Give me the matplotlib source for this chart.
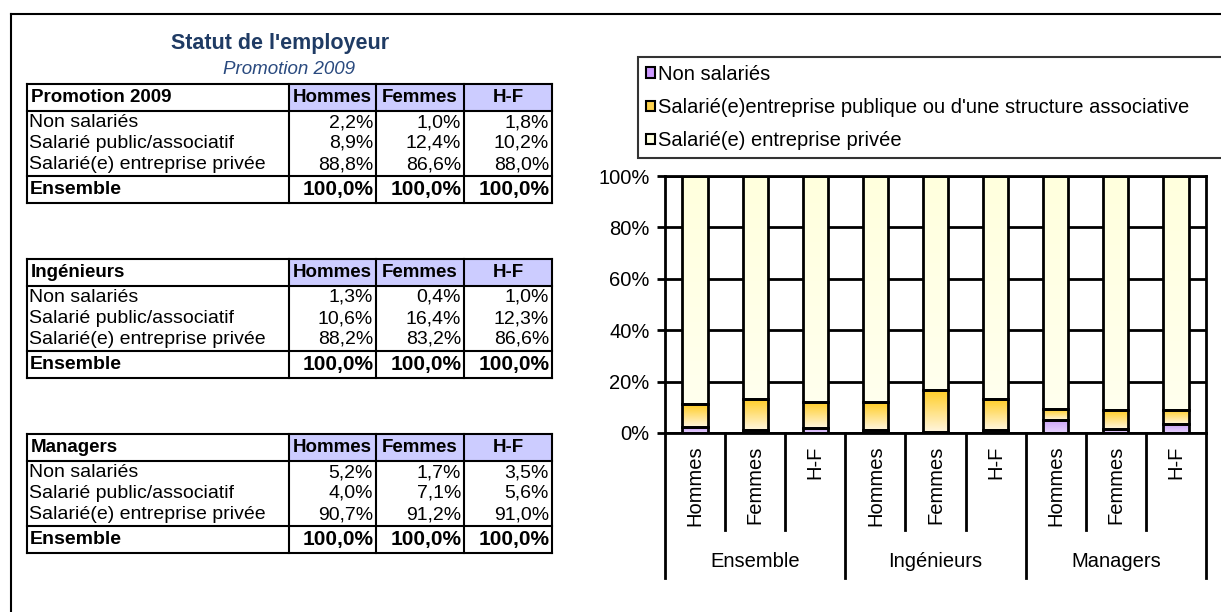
import numpy as np
import matplotlib.pyplot as plt
from matplotlib.patches import Rectangle
from matplotlib.colors import LinearSegmentedColormap
from matplotlib.transforms import blended_transform_factory

plt.rcParams['font.family'] = ['Liberation Sans', 'DejaVu Sans']

# --- données ---
groupes = ['Ensemble', 'Ingénieurs', 'Managers']
sexes = ['Hommes', 'Femmes', 'H-F']
titres_tableaux = ['Promotion 2009', 'Ingénieurs', 'Managers']
lignes = ['Non salariés', 'Salarié public/associatif', 'Salarié(e) entreprise privée']
non_salaries = [2.2, 1.0, 1.8, 1.3, 0.4, 1.0, 5.2, 1.7, 3.5]
public_asso = [8.9, 12.4, 10.2, 10.6, 16.4, 12.3, 4.0, 7.1, 5.6]
prive = [88.8, 86.6, 88.0, 88.2, 83.2, 86.6, 90.7, 91.2, 91.0]
legende = ['Non salariés',
           "Salarié(e)entreprise publique ou d'une structure associative",
           'Salarié(e) entreprise privée']
yticks = [0, 20, 40, 60, 80, 100]

W, H = 1221, 612
fig = plt.figure(figsize=(W / 100, H / 100), dpi=100)

# calque de fond en pixels pour le cadre et les tableaux
bg = fig.add_axes([0, 0, 1, 1])
bg.set_xlim(0, W)
bg.set_ylim(H, 0)
bg.axis('off')

bg.plot([11, 11], [14, H], color='black', lw=1.5)
bg.plot([11, W], [14, 14], color='black', lw=1.5)

bg.text(280, 43, "Statut de l'employeur", ha='center', va='center',
        fontsize=15.5, fontweight='bold', color='#1F3B64')
bg.text(289, 69, 'Promotion 2009', ha='center', va='center',
        fontsize=13.5, style='italic', color='#2A4A7F')

FS = 14
xs = [27, 289, 376, 464, 552]


def fmt(v):
    return f'{v:.1f}%'.replace('.', ',')


def dessine_tableau(y0, titre, vals):
    h_head, h_row, h_ens = 27, 21, 27
    y_head_bot = y0 + h_head
    y_ens_top = y_head_bot + 3 * h_row + 2
    y_bot = y_ens_top + h_ens
    for j in range(3):
        bg.add_patch(Rectangle((xs[j + 1], y0), xs[j + 2] - xs[j + 1], h_head,
                               fc='#CCCCFF', ec='none', zorder=1))
    # lignes horizontales
    for yy in [y0, y_head_bot, y_ens_top, y_bot]:
        bg.plot([xs[0], xs[-1]], [yy, yy], color='black', lw=1.5, zorder=2)
    for xx in xs:
        bg.plot([xx, xx], [y0, y_bot], color='black', lw=1.5, zorder=2)
    # en-tête
    yc = y0 + h_head / 2
    bg.text(xs[0] + 4, yc, titre, ha='left', va='center', fontsize=FS - 0.5, fontweight='bold')
    for j, s in enumerate(sexes):
        bg.text((xs[j + 1] + xs[j + 2]) / 2, yc, s, ha='center', va='center',
                fontsize=FS - 0.5, fontweight='bold')
    # lignes de données
    for i, lab in enumerate(lignes):
        yc = y_head_bot + 1 + h_row * (i + 0.5)
        bg.text(xs[0] + 2, yc, lab, ha='left', va='center', fontsize=FS)
        for j in range(3):
            bg.text(xs[j + 2] - 3, yc, fmt(vals[i][j]), ha='right', va='center', fontsize=FS)
    yc = y_ens_top + h_ens / 2
    bg.text(xs[0] + 3, yc, 'Ensemble', ha='left', va='center', fontsize=FS, fontweight='bold')
    for j in range(3):
        bg.text(xs[j + 2] - 2, yc, '100,0%', ha='right', va='center',
                fontsize=FS + 1, fontweight='bold')


for k, (titre, y0) in enumerate(zip(titres_tableaux, [84, 259, 434])):
    sl = slice(3 * k, 3 * k + 3)
    vals = [non_salaries[sl], public_asso[sl], prive[sl]]
    dessine_tableau(y0, titre, vals)

# --- graphique empilé 100 % ---
ax = fig.add_axes([665 / W, (H - 433) / H, (1206 - 665) / W, (433 - 176) / H])
x = np.arange(len(non_salaries))
a = np.array(non_salaries)
b = np.array(public_asso)
c = np.array(prive)
tot = a + b + c
a, b, c = a / tot * 100, b / tot * 100, c / tot * 100

cm_ns = LinearSegmentedColormap.from_list('ns', ['#E8D4FF', '#C9A0F5'])
cm_pub = LinearSegmentedColormap.from_list('pub', ['#FFF6DE', '#FFCC22'])
cm_pr = LinearSegmentedColormap.from_list('pr', ['#FFFFEE', '#FFFFDD'])
grad = np.linspace(0, 1, 64).reshape(-1, 1)

largeur = 0.42
for vals, bottom, cm in [(a, 0, cm_ns), (b, a, cm_pub), (c, a + b, cm_pr)]:
    bars = ax.bar(x, vals, largeur, bottom=bottom, fill=False, edgecolor='black',
                  linewidth=2, zorder=3)
    for p in bars:
        x0, y0 = p.get_x(), p.get_y()
        ax.imshow(grad, extent=(x0, x0 + p.get_width(), y0, y0 + p.get_height()),
                  origin='lower', cmap=cm, aspect='auto', zorder=2)

ax.set_xlim(-0.5, len(x) - 0.5)
ax.set_ylim(0, 100)
ax.set_yticks(yticks)
ax.set_yticklabels([f'{t}%' for t in yticks], fontsize=14.5)
ax.set_xticks([])
ax.yaxis.grid(True, color='black', lw=2)
ax.set_axisbelow(True)
ax.tick_params(axis='y', direction='out', length=6, width=2, pad=5)
for sp in ax.spines.values():
    sp.set_linewidth(2)

tr = blended_transform_factory(ax.transData, ax.transAxes)
for i in range(len(x)):
    ax.text(x[i], -0.05, sexes[i % 3], rotation=90, ha='center', va='top',
            fontsize=14.5, transform=tr)
for g, nom in enumerate(groupes):
    ax.text(3 * g + 1, -0.50, nom, ha='center', va='center', fontsize=14.5, transform=tr)
for k in range(len(x) + 1):
    bas = -0.565 if k % 3 == 0 else -0.377
    ax.plot([k - 0.5, k - 0.5], [0, bas], color='black', lw=2, transform=tr, clip_on=False)

# légende
handles = [Rectangle((0, 0), 1, 1, fc='#CC99FF', ec='black', lw=1.5),
           Rectangle((0, 0), 1, 1, fc='#FFD34D', ec='black', lw=1.5),
           Rectangle((0, 0), 1, 1, fc='#FFFFE0', ec='black', lw=1.5)]
leg = fig.legend(handles, legende, loc='upper left',
                 bbox_to_anchor=(638 / W, (H - 158) / H, 700 / W, 101 / H),
                 mode='expand', fontsize=14.5, frameon=True, fancybox=False,
                 labelspacing=0.7, handlelength=0.45, handleheight=0.45,
                 handletextpad=0.15, borderpad=0.4, borderaxespad=0)
leg.get_frame().set_edgecolor('black')
leg.get_frame().set_linewidth(1.5)

fig.savefig('out.png', dpi=100)
